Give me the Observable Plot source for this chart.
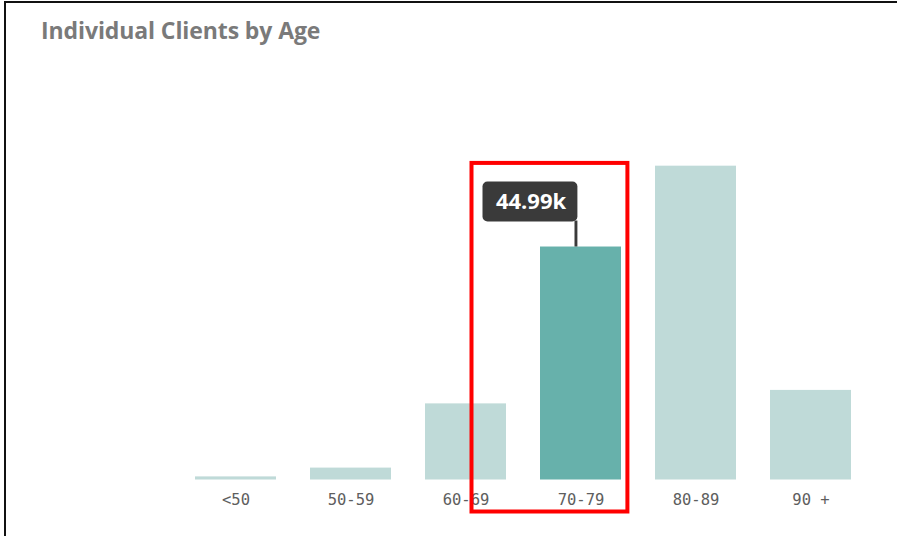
<!DOCTYPE html>
<html>
<head>
<meta charset="utf-8">
<script src="https://cdn.jsdelivr.net/npm/d3@7"></script>
<script src="https://cdn.jsdelivr.net/npm/@observablehq/plot@0.6"></script>
<style>
  html, body { margin: 0; padding: 0; background: #fff; overflow: hidden; }
  #wrap { position: relative; width: 897px; height: 536px; overflow: hidden; background: #fff; }
  #frame { position: absolute; left: 4px; top: 1px; width: 1200px; height: 1200px;
           border-left: 2.5px solid #111; border-top: 2.5px solid #111; pointer-events: none; }
  #head { position: relative; height: 60px; }
  #title { position: absolute; left: 41px; top: 19px; margin: 0;
           font-family: "Open Sans", sans-serif; font-weight: 700; font-size: 23px; line-height: 23px;
           color: #7a7a7a; white-space: nowrap; letter-spacing: -0.1px; }
  #chart svg { display: block; }
</style>
</head>
<body>
<div id="wrap">
  <div id="head"><div id="title">Individual Clients by Age</div></div>
  <div id="chart"></div>
  <div id="frame"></div>
</div>
<script>
// ---- data (thousands of clients) ----
const ages = ["<50", "50-59", "60-69", "70-79", "80-89", "90 +"];
const clients = [0.6, 2.3, 14.7, 44.99, 60.6, 17.3];
const highlighted = "70-79";

const lightColor = "#bfdad8";
const darkColor = "#67b1ab";

const data = ages.map((age, i) => ({age, clients: clients[i]}));
const sel = data.filter(d => d.age === highlighted);
const fmt = v => d3.format(".2f")(v) + "k";

const chart = Plot.plot({
  width: 897,
  height: 476,
  marginLeft: 177.5,
  marginRight: 28.9,
  marginTop: 57,
  marginBottom: 56.5,
  style: {background: "transparent", overflow: "visible"},
  x: {domain: ages, paddingInner: 0.295, paddingOuter: 0.15, axis: null, label: null},
  y: {domain: [0, 70], axis: null},
  color: {type: "identity"},
  marks: [
    Plot.barY(data, {
      x: "age", y: "clients",
      fill: d => d.age === highlighted ? darkColor : lightColor
    }),
    Plot.axisX({
      label: null,
      tickSize: 0, tickPadding: 14,
      fontSize: 15.5, fontFamily: "DejaVu Sans Mono", fill: "#5e5e5e"
    }),
    // highlight frame around selected category
    Plot.barY(sel, {
      x: "age", y: "clients",
      fill: "none", stroke: "#ff0000", strokeWidth: 4,
      insetLeft: -68.5, insetRight: -6.4, insetTop: -83.6, insetBottom: -32
    }),
    // tooltip stem
    Plot.barY(sel, {
      x: "age", y1: "clients", y2: "clients",
      fill: "#3a3a3a",
      insetLeft: 34.5, insetRight: 43.6, insetTop: -26, insetBottom: 0
    }),
    // tooltip box
    Plot.barY(sel, {
      x: "age", y1: "clients", y2: "clients",
      fill: "#3a3a3a", rx: 5,
      insetLeft: -57.5, insetRight: 43.6, insetTop: -65, insetBottom: 25
    }),
    Plot.text(sel, {
      x: "age", y: "clients", text: d => fmt(d.clients),
      dx: -50, dy: -45,
      fill: "#ffffff", fontWeight: 700, fontSize: 22, fontFamily: "Open Sans"
    })
  ]
});
document.getElementById("chart").appendChild(chart);
</script>
</body>
</html>
